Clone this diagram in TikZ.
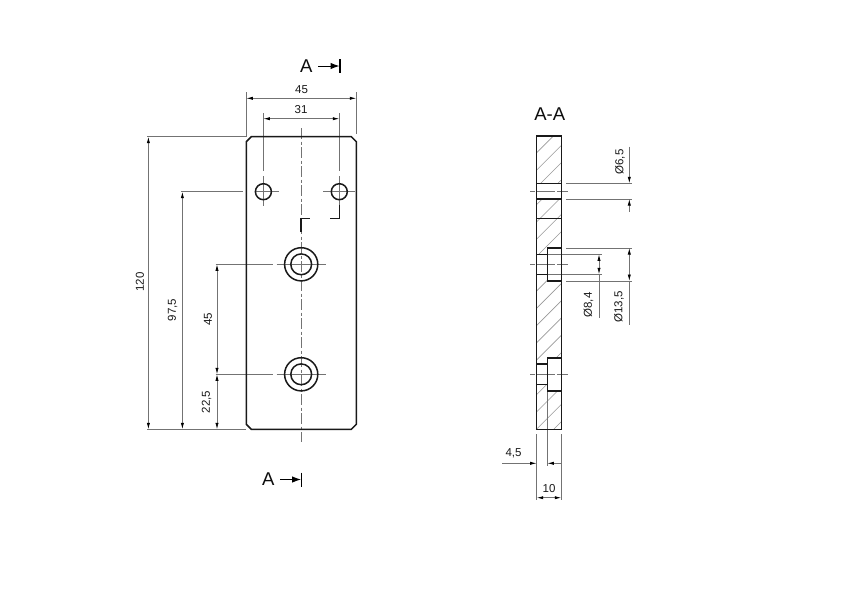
\documentclass[tikz,border=0pt]{standalone}
\usepackage{fontspec}
\setmainfont{Liberation Sans}
\usetikzlibrary{arrows.meta}
\tikzset{
  outline/.style={line width=1.5pt,black!90},
  thin dim/.style={line width=0.75pt,black!55},
  dimline/.style={thin dim,{Latex[length=6.5pt,width=3.2pt,black]}-{Latex[length=6.5pt,width=3.2pt,black]}},
  dimone/.style={thin dim,-{Latex[length=6.5pt,width=3.2pt,black]}},
  center/.style={line width=0.75pt,black!55,dash pattern=on 11pt off 2.5pt on 3pt off 2.5pt},
  crossline/.style={line width=0.75pt,black!55},
  hatchline/.style={line width=0.6pt,black!40},
  lab/.style={font=\fontsize{11.5}{13}\selectfont,text=black!90,inner sep=0pt},
  labv/.style={lab,rotate=90},
  sectxt/.style={font=\fontsize{18.5}{20}\selectfont,text=black!95,inner sep=0pt},
  secarrow/.style={line width=1pt,black,-{Latex[length=9pt,width=6.5pt]}},
}
\begin{document}
\begin{tikzpicture}[x=1pt,y=-1pt]
\useasboundingbox (0,0) rectangle (850,600);
\fill[white] (0,0) rectangle (850,600);
% --- front view: extension lines
\draw[thin dim] (246.3,92) -- (246.3,136.7) -- (147,136.7);
\draw[thin dim] (356.3,92) -- (356.3,134);
\draw[thin dim] (263.4,113) -- (263.4,170.7);
\draw[thin dim] (339.3,113) -- (339.3,170.7);
\draw[thin dim] (181,191.7) -- (243,191.7);
\draw[thin dim] (215.5,264.3) -- (272.7,264.3);
\draw[thin dim] (215.5,374.3) -- (272.7,374.3);
\draw[thin dim] (147,429.3) -- (246.3,429.3);
% dimension lines
\draw[dimline] (246.3,98.3) -- (356.3,98.3);
\draw[dimline] (263.4,118.7) -- (339.3,118.7);
\draw[dimline] (148.4,136.7) -- (148.4,429.3);
\draw[dimline] (182.4,191.7) -- (182.4,429.3);
\draw[dimline] (217,264.3) -- (217,374.3);
\draw[dimline] (217,374.3) -- (217,429.3);
% centre line and crosses
\draw[center] (301.2,128) -- (301.2,442);
\draw[crossline] (263.4,176) -- (263.4,205.7) (255,191.7) -- (278.5,191.7);
\draw[crossline] (339.3,176) -- (339.3,205.7) (323,191.7) -- (355,191.7);
\draw[crossline] (276.7,264.3) -- (325.5,264.3) (276.7,374.3) -- (325.5,374.3);
% outline
\draw[outline] (251.3,136.7) -- (351.3,136.7) -- (356.3,141.7) -- (356.3,424.3) -- (351.3,429.3) -- (251.3,429.3) -- (246.3,424.3) -- (246.3,141.7) -- cycle;
\draw[outline] (263.4,191.7) circle (8);
\draw[outline] (339.3,191.7) circle (8);
\draw[outline] (301.2,264.3) circle (16.6) circle (10.4);
\draw[outline] (301.2,374.3) circle (16.6) circle (10.4);
% section path marks
\draw[outline] (301.2,232) -- (301.2,218.4) -- (310,218.4);
\draw[outline] (339.7,205) -- (339.7,218.4) -- (330,218.4);
% section marks
\node[sectxt] (a1) at (306.3,66) {A};
\draw[secarrow] (318,66) -- (339.5,66);
\draw[line width=1.5pt,black] (339.8,59) -- (339.8,73);
\node[sectxt] (a2) at (268.3,479.5) {A};
\draw[secarrow] (280,479.5) -- (301,479.5);
\draw[line width=1.5pt,black] (301.3,472.5) -- (301.3,487);
% labels front
\node[lab] (d45) at (301.5,89.5) {45};
\node[lab] (d31) at (301,110) {31};
\node[labv] (d120) at (140,282) {120};
\node[labv] (d975) at (172.5,310) {97,5};
\node[labv] (d45b) at (208,319) {45};
\node[labv] (d225) at (206.5,402) {22,5};
% --- section view: hatching
\begin{scope}
\clip (536.7,136) -- (561.3,136) -- (561.3,183.3) -- (536.7,183.3) -- cycle
      (536.7,199) -- (561.3,199) -- (561.3,248) -- (547.3,248) -- (547.3,254.3) -- (536.7,254.3) -- cycle
      (536.7,274.3) -- (547.3,274.3) -- (547.3,281) -- (561.3,281) -- (561.3,358) -- (547.3,358) -- (547.3,364) -- (536.7,364) -- cycle
      (536.7,384.3) -- (547.3,384.3) -- (547.3,391) -- (561.3,391) -- (561.3,429.3) -- (536.7,429.3) -- cycle;
\foreach \k in {-2,...,18}{
  \draw[hatchline] ({520},{689.4+17.27*\k-520}) -- ({580},{689.4+17.27*\k-580});
}
\end{scope}
% section extension + dims
\draw[thin dim] (566,183.3) -- (632,183.3) (566,199) -- (632,199);
\draw[thin dim] (566,248) -- (632,248) (566,281) -- (632,281);
\draw[thin dim] (547.3,254.3) -- (601.5,254.3) (547.3,274.3) -- (601.5,274.3);
\draw[dimone] (629.3,146.7) -- (629.3,183.3);
\draw[dimone] (629.3,211.7) -- (629.3,199);
\draw[dimline] (629.3,248) -- (629.3,281);
\draw[thin dim] (629.3,281) -- (629.3,325);
\draw[dimline] (599,254.3) -- (599,274.3);
\draw[thin dim] (599,274.3) -- (599,318);
\draw[dimone] (502.3,463.3) -- (536.7,463.3);
\draw[dimone] (561.3,463.3) -- (547.3,463.3);
\draw[dimline] (536.7,497.7) -- (561.3,497.7);
\draw[thin dim] (536.7,434) -- (536.7,500) (561.3,434) -- (561.3,500);
\draw[thin dim] (547.3,391) -- (547.3,466);
% centre dashes in section
\draw[center,dash pattern=on 5pt off 2pt on 18pt off 2pt on 11pt] (530,191.3) -- (568,191.3);
\draw[center,dash pattern=on 5pt off 2pt on 18pt off 2pt on 11pt] (530,264.3) -- (568,264.3);
\draw[center,dash pattern=on 5pt off 2pt on 18pt off 2pt on 11pt] (530,374.3) -- (568,374.3);
% section outline
\draw[outline] (536.7,136) rectangle (561.3,429.3);
\draw[outline] (536.7,183.3) -- (561.3,183.3) (536.7,199) -- (561.3,199) (536.7,218.3) -- (561.3,218.3);
\draw[outline] (536.7,254.3) -- (547.3,254.3) (536.7,274.3) -- (547.3,274.3);
\draw[outline] (561.3,248) -- (547.3,248) -- (547.3,281) -- (561.3,281);
\draw[outline] (536.7,364) -- (547.3,364) (536.7,384.3) -- (547.3,384.3);
\draw[outline] (561.3,358) -- (547.3,358) -- (547.3,391) -- (561.3,391);
% labels section
\node[sectxt] (aa) at (549.7,114) {A-A};
\node[labv] (d65) at (620,162) {Ø6,5};
\node[labv] (d84) at (588.5,305) {Ø8,4};
\node[labv] (d135) at (619,307) {Ø13,5};
\node[lab] (d45c) at (513.5,453.5) {4,5};
\node[lab] (d10) at (549,488.5) {10};
\end{tikzpicture}
\end{document}
